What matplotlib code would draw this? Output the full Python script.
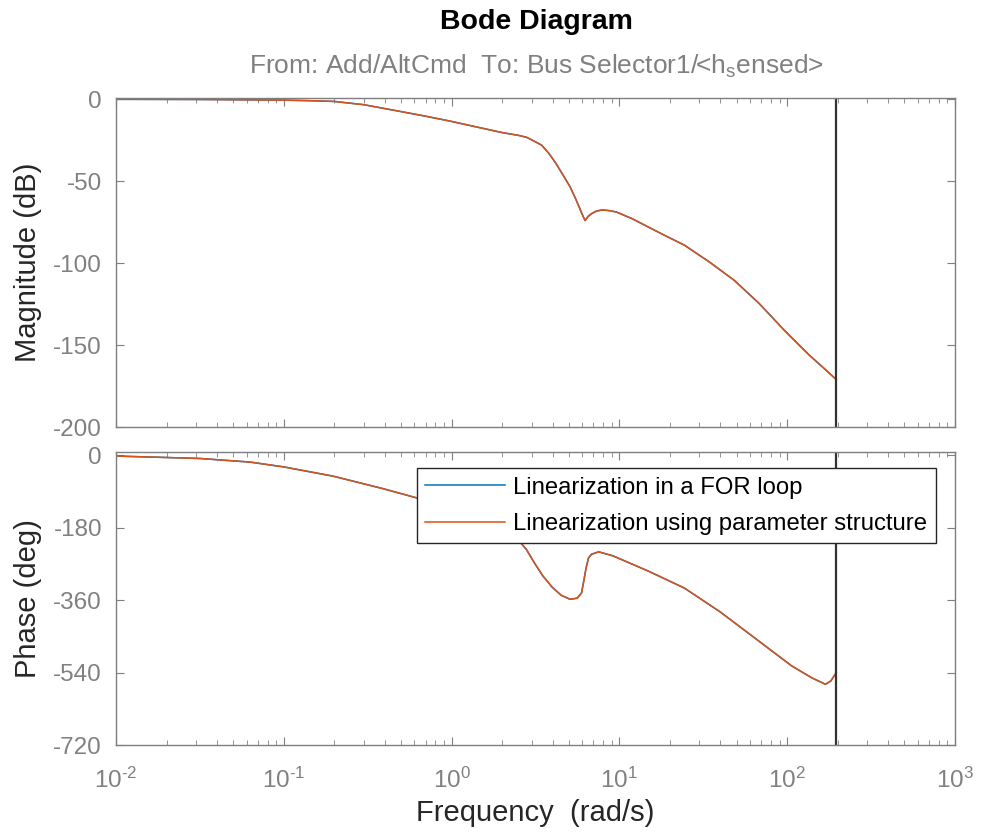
import numpy as np
import matplotlib
matplotlib.use('Agg')
import matplotlib.pyplot as plt
from matplotlib.ticker import FuncFormatter

plt.rcParams['font.family'] = ['Liberation Sans', 'DejaVu Sans']
plt.rcParams['mathtext.fontset'] = 'custom'
plt.rcParams['mathtext.rm'] = 'Liberation Sans'
plt.rcParams['axes.unicode_minus'] = False

# magnitude response
mag_freq = [0.01, 0.03, 0.06, 0.1, 0.15, 0.2, 0.3, 0.5, 0.7, 1.0, 1.5, 2.0, 2.5, 2.8,
            3.1, 3.44, 3.8, 4.18, 4.6, 5.09, 5.5, 5.8, 6.05, 6.25, 6.5, 6.82, 7.3, 7.9,
            8.8, 9.6, 12, 14.9, 19, 24.4, 34.4, 48.4, 68.2, 96.2, 135, 165, 196]
mag_db = [0, -0.1, -0.3, -0.5, -0.9, -1.3, -3.3, -7.5, -10.3, -13.5, -17.5, -20.3, -22.0, -23.2,
          -25.5, -28, -33, -39, -46, -53.5, -61, -66.5, -71, -74, -71.5, -69.8, -68.2, -67.5,
          -68, -68.8, -73, -78, -83.5, -89, -99.3, -110.5, -124.7, -141, -156, -164, -171]

# phase response
ph_freq = [0.01, 0.0316, 0.063, 0.1, 0.197, 0.39, 0.62, 1.0, 1.5, 2.0, 2.44, 2.8, 3.12,
           3.5, 3.98, 4.5, 5.09, 5.61, 5.95, 6.15, 6.34, 6.55, 6.82, 7.53, 9.16, 14.9,
           24.4, 39.8, 65, 106, 140, 169, 182, 196]
ph_deg = [-2, -8, -17, -29, -52, -83, -106, -135, -162, -185, -205, -235, -268,
          -300, -328, -348, -358, -355, -342, -310, -279, -255, -246, -240, -250, -288,
          -330, -389, -456, -523, -553, -569, -561, -540]

nyquist = 196.0
series = ['Linearization in a FOR loop', 'Linearization using parameter structure']
colors = ['#0072BD', '#D95319']

gray = '#7f7f7f'
label_gray = '#808080'
dark = '#262626'


def decade_label(x, pos):
    e = int(round(np.log10(x)))
    if e < 0:
        return r'$\mathregular{10^{\text{-}%d}}$' % (-e)
    return r'$\mathregular{10^{%d}}$' % e


fig = plt.figure(figsize=(9.84, 8.34), dpi=100)
ax1 = fig.add_axes([0.1179, 0.488, 0.8526, 0.3945])
ax2 = fig.add_axes([0.1179, 0.1067, 0.8526, 0.3513])

for c, name in zip(colors, series):
    ax1.plot(mag_freq, mag_db, color=c, lw=1.1, label=name)
    ax2.plot(ph_freq, ph_deg, color=c, lw=1.1, label=name)

for ax in (ax1, ax2):
    ax.axvline(nyquist, color='#333333', lw=1.6)
    ax.set_xscale('log')
    ax.set_xlim(1e-2, 1e3)
    ax.xaxis.set_major_formatter(FuncFormatter(decade_label))
    ax.tick_params(which='both', direction='in', top=True, right=True, colors=gray,
                   labelcolor=label_gray, labelsize=17.5)
    ax.tick_params(which='major', length=6)
    ax.tick_params(which='minor', length=3.5)
    ax.tick_params(axis='y', pad=10)
    for s in ax.spines.values():
        s.set_color(gray)
        s.set_linewidth(1.0)

ax1.set_ylim(-200, 0.8)
ax1.set_yticks([0, -50, -100, -150, -200])
ax1.tick_params(labelbottom=False)
ax1.set_ylabel('Magnitude (dB)', fontsize=21, color=dark)
ax1.yaxis.set_label_coords(-0.088, 0.5)

ax2.set_ylim(-720, 8)
ax2.set_yticks([0, -180, -360, -540, -720])
ax2.set_ylabel('Phase (deg)', fontsize=21, color=dark)
ax2.yaxis.set_label_coords(-0.088, 0.5)
ax2.set_xlabel('Frequency  (rad/s)', fontsize=21, color=dark)
ax2.xaxis.set_label_coords(0.5, -0.185)
ax2.tick_params(axis='x', pad=16)

leg = ax2.legend(loc='upper right', bbox_to_anchor=(0.977, 0.944), borderaxespad=0,
                 fontsize=17.2, frameon=True, fancybox=False, framealpha=1,
                 edgecolor=dark, handlelength=3.35, borderpad=0.35, labelspacing=0.6,
                 handletextpad=0.33)
leg.get_frame().set_linewidth(1.0)

fig.text(0.545, 1 - 22 / 834, 'Bode Diagram', ha='center', va='center', fontsize=20.5,
         fontweight='bold', color='#000000')
fig.text(0.545, 1 - 66 / 834, r'From: Add/AltCmd  To: Bus Selector1/<h$_{\mathregular{s}}$ensed>',
         ha='center', va='center', fontsize=19, color=label_gray)

fig.savefig('out.png', dpi=100)
